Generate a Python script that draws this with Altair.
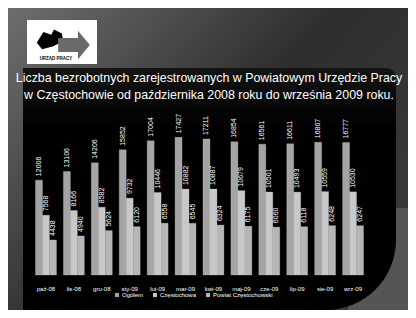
import altair as alt
import pandas as pd

months = ["paź-08", "lis-08", "gru-08", "sty-09", "lut-09", "mar-09",
          "kwi-09", "maj-09", "cze-09", "lip-09", "sie-09", "wrz-09"]
ogolem = [12006, 13106, 14206, 15852, 17004, 17427, 17211, 16854, 16561, 16611, 16807, 16777]
czestochowa = [7568, 8166, 8582, 9732, 10446, 10882, 10887, 10679, 10501, 10493, 10559, 10530]
powiat = [4438, 4940, 5624, 6120, 6558, 6545, 6324, 6175, 6060, 6118, 6248, 6247]
series = ["Ogółem", "Częstochowa", "Powiat Częstochowski"]
colors = ["#a4a4a4", "#c8c8c8", "#b6b6b6"]
title_lines = ["Liczba bezrobotnych zarejestrowanych w Powiatowym Urzędzie Pracy",
               "w Częstochowie od października 2008 roku do września 2009 roku."]

rows = []
for i, m in enumerate(months):
    for s, vals in zip(series, [ogolem, czestochowa, powiat]):
        rows.append({"month": m, "series": s, "value": vals[i]})
df = pd.DataFrame(rows)
dm = pd.DataFrame({"month": months})
one = pd.DataFrame({"a": [0]})

W, H = 400, 302
xscale = alt.Scale(domain=months, range=[24, 359], paddingInner=0.25, paddingOuter=0.125)
yscale = alt.Scale(domain=[0, 20000], range=[267, 109])

bg_grad = alt.LinearGradient(gradient="linear", x1=0, y1=0, x2=1, y2=0.7,
                             stops=[alt.GradientStop(color="#6e6e6e", offset=0),
                                    alt.GradientStop(color="#2e2e2e", offset=0.55),
                                    alt.GradientStop(color="#3a3a3a", offset=1)])
bg = alt.Chart(one).mark_rect(color=bg_grad).encode(
    x=alt.value(0), x2=alt.value(W), y=alt.value(0), y2=alt.value(H))
corner = alt.Chart(one).mark_rect(color="#555555").encode(
    x=alt.value(340), x2=alt.value(W), y=alt.value(200), y2=alt.value(H))
panel_grad = alt.LinearGradient(gradient="linear", x1=0, y1=0, x2=0, y2=1,
                                stops=[alt.GradientStop(color="#141414", offset=0),
                                       alt.GradientStop(color="#000000", offset=0.25),
                                       alt.GradientStop(color="#000000", offset=1)])
panel = alt.Chart(one).mark_rect(color=panel_grad, cornerRadiusBottomRight=70,
                                 cornerRadiusTopRight=10).encode(
    x=alt.value(15), x2=alt.value(388), y=alt.value(60), y2=alt.value(H))

# logo
logo_box = alt.Chart(one).mark_rect(color="white").encode(
    x=alt.value(19), x2=alt.value(89), y=alt.value(12), y2=alt.value(56))
cards = alt.Chart(one).mark_point(
    shape="M-1,0.2L-0.5,-0.6L0.1,-0.4L0.3,-0.8L0.9,-0.5L1,0.1L0.2,0.5L-0.6,0.7Z",
    filled=True, color="black", opacity=1, size=700).encode(
    x=alt.value(42), y=alt.value(32))
arrow = alt.Chart(one).mark_point(
    shape="M-1,-0.45L0.25,-0.45L0.25,-0.9L1,0L0.25,0.9L0.25,0.45L-1,0.45Z",
    filled=True, color="#6a6a6a", opacity=1, size=1000).encode(
    x=alt.value(66), y=alt.value(37))
logo_txt = alt.Chart(one).mark_text(text="URZĄD PRACY", fontSize=4.5, fontWeight="bold",
                                    color="black", font="Liberation Sans").encode(
    x=alt.value(48), y=alt.value(51))

titles = alt.layer(*[
    alt.Chart(one).mark_text(text=t, fontSize=12.4, color="white", font="Liberation Sans").encode(
        x=alt.value(201), y=alt.value(70 + 17 * k))
    for k, t in enumerate(title_lines)])

base = alt.Chart(df).encode(
    x=alt.X("month:N", scale=xscale, sort=months, axis=None),
    xOffset=alt.XOffset("series:N", sort=series,
                        scale=alt.Scale(domain=series, paddingInner=0, paddingOuter=0)),
    y=alt.Y("value:Q", scale=yscale, axis=None))

bars = base.mark_bar(stroke="#e0e0e0", strokeWidth=0.4, strokeOpacity=0.6).encode(
    color=alt.Color("series:N", scale=alt.Scale(domain=series, range=colors),
                    legend=alt.Legend(orient="none", legendX=106, legendY=284,
                                      direction="horizontal", title=None,
                                      labelColor="white", labelFontSize=6,
                                      labelFont="Liberation Sans",
                                      symbolType="square", symbolSize=16,
                                      symbolStrokeWidth=0, columnPadding=8,
                                      symbolOffset=0, labelOffset=2)))
labels = base.mark_text(angle=270, align="left", baseline="middle", dx=4,
                        fontSize=7, color="white", font="Liberation Sans").encode(
    text=alt.Text("value:Q", format="d"))

xlabels = alt.Chart(dm).mark_text(fontSize=6, color="white", font="Liberation Sans").encode(
    x=alt.X("month:N", scale=xscale, sort=months, axis=None),
    y=alt.value(281), text="month:N")

chart = alt.layer(bg, corner, panel, logo_box, cards, arrow, logo_txt, titles,
                  bars, labels, xlabels).properties(
    width=W, height=H, padding=0,
    autosize=alt.AutoSizeParams(type="none"),
    background="#000000"
).configure_view(stroke=None)

chart.save("out.html", embed_options={"renderer": "svg", "actions": False})
